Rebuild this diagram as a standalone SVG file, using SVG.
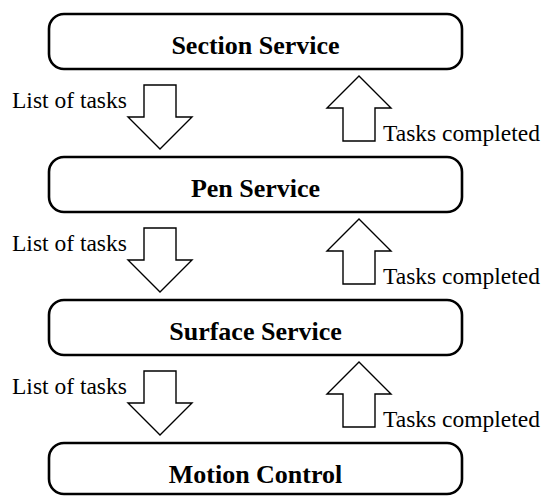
<svg xmlns="http://www.w3.org/2000/svg" width="546" height="496" viewBox="0 0 546 496">
<style>
.box{fill:#fff;stroke:#000;stroke-width:2.6}
.lbl{font-family:"Liberation Serif","Times New Roman",serif;font-weight:bold;font-size:26px;fill:#000;text-anchor:middle}
.arr{fill:#fff;stroke:#000;stroke-width:1.4;stroke-linejoin:miter}
.txt{font-family:"Liberation Serif","Times New Roman",serif;font-size:23.5px;fill:#000}
</style>
<rect width="546" height="496" fill="#fff"/>
<g id="section-service"><rect class="box" x="49" y="14" width="413" height="55" rx="15"/><text class="lbl" x="255.5" y="54">Section Service</text></g>
<g id="pen-service"><rect class="box" x="49" y="157" width="413" height="55" rx="15"/><text class="lbl" x="255.5" y="197">Pen Service</text></g>
<g id="surface-service"><rect class="box" x="49" y="300" width="413" height="55" rx="15"/><text class="lbl" x="255.5" y="340">Surface Service</text></g>
<g id="motion-control"><rect class="box" x="49" y="443" width="413" height="51" rx="15"/><text class="lbl" x="255.5" y="483">Motion Control</text></g>
<g id="connectors">
<polygon class="arr" points="144,85 176,85 176,117 192,117 160,149 128,117 144,117"/>
<polygon class="arr" points="343,141 375,141 375,108 391,108 359,76 327,108 343,108"/>
<text class="txt" x="12" y="108">List of tasks</text>
<text class="txt" x="383" y="141">Tasks completed</text>
<polygon class="arr" points="144,228 176,228 176,260 192,260 160,292 128,260 144,260"/>
<polygon class="arr" points="343,284 375,284 375,251 391,251 359,219 327,251 343,251"/>
<text class="txt" x="12" y="251">List of tasks</text>
<text class="txt" x="383" y="284">Tasks completed</text>
<polygon class="arr" points="144,371 176,371 176,403 192,403 160,435 128,403 144,403"/>
<polygon class="arr" points="343,427 375,427 375,394 391,394 359,362 327,394 343,394"/>
<text class="txt" x="12" y="394">List of tasks</text>
<text class="txt" x="383" y="427">Tasks completed</text>
</g>
</svg>
